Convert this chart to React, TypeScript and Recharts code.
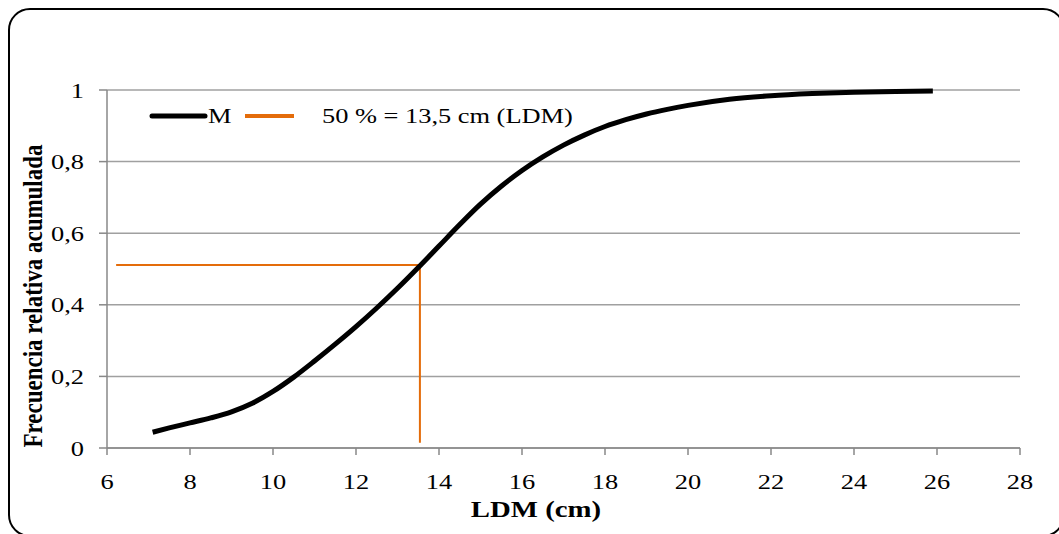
import { CartesianGrid, Legend, Line, LineChart, XAxis, YAxis } from "recharts";

// valores
const lengthCm = [7.1, 7.5, 8, 8.5, 9, 9.5, 10, 10.5, 11, 11.5, 12, 12.5, 13, 13.5, 14, 14.5, 15, 15.5, 16, 16.5, 17, 17.5, 18, 18.5, 19, 19.5, 20, 21, 22, 23, 24, 25, 25.9];
const cumFreq = [0.044, 0.056, 0.07, 0.084, 0.101, 0.125, 0.158, 0.198, 0.243, 0.29, 0.339, 0.391, 0.446, 0.504, 0.564, 0.624, 0.681, 0.731, 0.775, 0.813, 0.846, 0.874, 0.898, 0.917, 0.933, 0.946, 0.957, 0.974, 0.984, 0.99, 0.994, 0.996, 0.997];
const ldmX = [6.22, 13.54, 13.54];
const ldmY = [0.511, 0.511, 0.015];
const xTicks = [6, 8, 10, 12, 14, 16, 18, 20, 22, 24, 26, 28];
const yTicks = [0, 0.2, 0.4, 0.6, 0.8, 1];
const seriesName = "M";
const ldmName = "50 % = 13,5 cm (LDM)";
const xTitle = "LDM (cm)";
const yTitle = "Frecuencia relativa acumulada";

const curve = lengthCm.map((x, i) => ({ x, y: cumFreq[i] }));
const ldm = ldmX.map((x, i) => ({ x, y: ldmY[i] }));

document.body.style.margin = "0";

const font = "'Liberation Serif', 'Times New Roman', serif";
const orange = "#E46C0A";
const stretch = "scale(1.2,1)";

function XTick(props: any) {
  const { x, y, payload } = props;
  return (
    <g transform={`translate(${x},${y})`}>
      <text transform={stretch} y={24} textAnchor="middle" fontFamily={font} fontSize={22} fill="#000">
        {String(payload.value)}
      </text>
    </g>
  );
}

function YTick(props: any) {
  const { x, y, payload } = props;
  return (
    <g transform={`translate(${x},${y})`}>
      <text transform={stretch} y={7.5} textAnchor="end" fontFamily={font} fontSize={22} fill="#000">
        {String(payload.value).replace(".", ",")}
      </text>
    </g>
  );
}

function LegendBox() {
  return (
    <svg width={500} height={40}>
      <line x1={22} y1={21} x2={75} y2={21} stroke="#000" strokeWidth={5} strokeLinecap="round" />
      <text transform={`translate(78,28) ${stretch}`} fontFamily={font} fontSize={22} fill="#000">
        {seriesName}
      </text>
      <line x1={115} y1={21} x2={164} y2={21} stroke={orange} strokeWidth={4} />
      <text transform={`translate(192,28) ${stretch}`} fontFamily={font} fontSize={22} fill="#000">
        {ldmName}
      </text>
    </svg>
  );
}

export default function App() {
  return (
    <div style={{ position: "relative", width: 1059, height: 534, overflow: "hidden", background: "#fff" }}>
      <div
        style={{
          position: "absolute",
          left: 8,
          top: 8,
          width: 1057,
          height: 529,
          boxSizing: "border-box",
          border: "2px solid #000",
          borderRadius: 22,
        }}
      />
      <LineChart width={1059} height={534} margin={{ top: 90, right: 39, bottom: 0, left: 0 }}>
        <CartesianGrid vertical={false} stroke="#a0a0a0" strokeWidth={1.5} />
        <XAxis
          type="number"
          dataKey="x"
          domain={[6, 28]}
          ticks={xTicks}
          allowDataOverflow
          height={86}
          stroke="#888"
          strokeWidth={1.5}
          tickSize={7}
          tickMargin={10}
          tick={XTick}
          label={() => (
            <text transform={`translate(536,517) ${stretch}`} textAnchor="middle" fontFamily={font} fontSize={24} fontWeight="bold" fill="#000">
              {xTitle}
            </text>
          )}
        />
        <YAxis
          type="number"
          domain={[0, 1]}
          ticks={yTicks}
          width={107}
          stroke="#888"
          strokeWidth={1.5}
          tickSize={8}
          tickMargin={15}
          tick={YTick}
          label={() => (
            <text transform={`translate(42,296) ${stretch} rotate(-90)`} textAnchor="middle" fontFamily={font} fontSize={23} fontWeight="bold" fill="#000">
              {yTitle}
            </text>
          )}
        />
        <Legend
          layout="horizontal"
          align="center"
          verticalAlign="middle"
          wrapperStyle={{ left: 130, top: 95, width: 500, height: 40 }}
          content={() => <LegendBox />}
        />
        <Line
          data={ldm}
          dataKey="y"
          name={ldmName}
          type="linear"
          stroke={orange}
          strokeWidth={2}
          dot={false}
          activeDot={false}
          isAnimationActive={false}
        />
        <Line
          data={curve}
          dataKey="y"
          name={seriesName}
          type="monotone"
          stroke="#000"
          strokeWidth={5}
          dot={false}
          activeDot={false}
          isAnimationActive={false}
        />
      </LineChart>
    </div>
  );
}
